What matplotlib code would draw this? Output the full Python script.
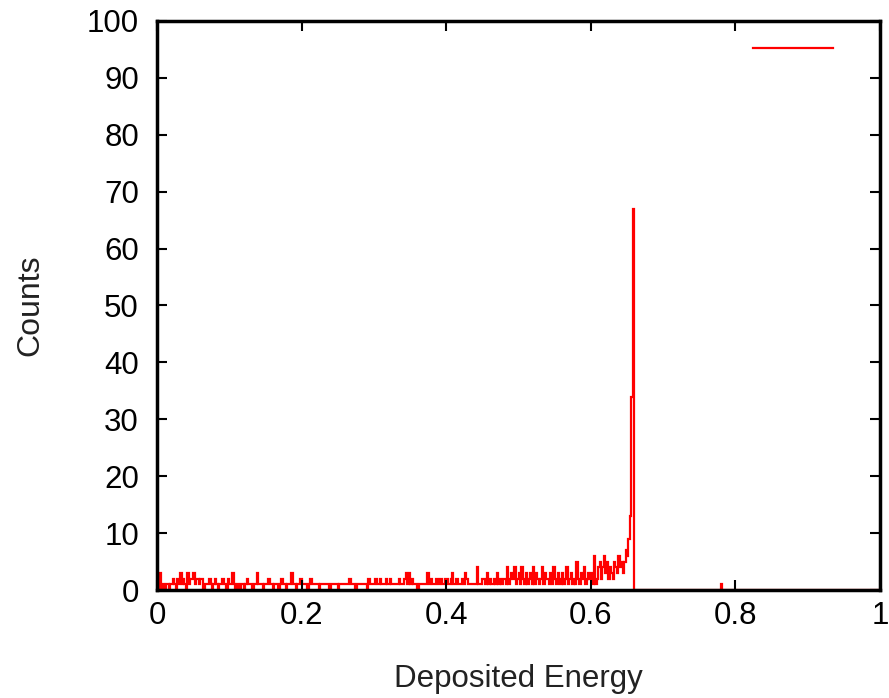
import numpy as np
import matplotlib
matplotlib.use("Agg")
import matplotlib.pyplot as plt

# Histograma de energia depositada (bins de 0.002)
largura_bin = 0.002
contagens = [
    # 0.00 - 0.10
    0, 0, 3, 0, 1, 0, 1, 1, 0, 1, 1, 2, 1, 0, 2, 1, 3, 1, 2, 1, 0, 3, 1, 2, 2,
    3, 1, 2, 2, 1, 2, 2, 0, 1, 1, 1, 2, 1, 0, 1, 2, 1, 0, 1, 1, 2, 1, 1, 0, 2,
    # 0.10 - 0.20
    1, 1, 3, 1, 0, 1, 1, 0, 1, 1, 0, 1, 2, 1, 1, 1, 0, 1, 1, 3, 1, 1, 1, 0, 1,
    1, 1, 2, 1, 1, 0, 1, 1, 1, 0, 1, 2, 1, 1, 0, 1, 1, 1, 3, 1, 1, 0, 1, 1, 2,
    # 0.20 - 0.30
    1, 1, 1, 1, 0, 1, 2, 1, 1, 1, 1, 1, 0, 1, 1, 1, 1, 1, 1, 0, 1, 1, 1, 1, 1,
    0, 1, 1, 1, 1, 1, 1, 1, 2, 1, 1, 1, 0, 1, 1, 1, 1, 1, 1, 1, 0, 2, 1, 1, 1,
    # 0.30 - 0.40
    1, 2, 1, 1, 2, 1, 1, 1, 2, 1, 1, 2, 1, 1, 1, 1, 1, 2, 1, 1, 1, 2, 3, 1, 3,
    1, 2, 1, 1, 1, 0, 1, 1, 1, 1, 1, 1, 3, 1, 2, 1, 1, 1, 2, 1, 1, 2, 1, 1, 2,
    # 0.40 - 0.50
    2, 1, 1, 2, 3, 1, 1, 2, 1, 1, 1, 2, 1, 3, 2, 1, 1, 1, 1, 1, 1, 4, 1, 1, 1,
    2, 2, 1, 3, 1, 2, 1, 1, 2, 1, 3, 1, 2, 1, 2, 2, 1, 4, 1, 2, 3, 2, 4, 1, 2,
    # 0.50 - 0.60
    3, 1, 4, 2, 1, 3, 1, 2, 3, 1, 4, 1, 3, 2, 1, 2, 4, 1, 3, 2, 2, 1, 3, 1, 4,
    2, 1, 3, 2, 1, 3, 1, 2, 4, 1, 2, 3, 1, 2, 1, 5, 2, 1, 3, 2, 4, 1, 2, 3, 2,
    # 0.60 - 0.66
    3, 1, 6, 1, 2, 4, 5, 2, 4, 6, 3, 5, 2, 4, 3, 2, 5, 4, 3, 6, 4, 5, 3, 5, 7,
    6, 9, 13, 34, 67,
]
# evento isolado perto de 0.78
contagens = contagens + [0] * 60 + [1] + [0] * 109

bordas = np.arange(len(contagens) + 1) * largura_bin

plt.rcParams["font.family"] = ["Liberation Sans", "DejaVu Sans"]

fig = plt.figure(figsize=(8.89, 6.98), dpi=100)
ax = fig.add_axes([0.1766, 0.1547, 0.8134, 0.8153])

ax.stairs(contagens, bordas, color="red", linewidth=1.6, label=" ")

ax.set_xlim(0, 1)
ax.set_ylim(0, 100)
ax.set_xticks([0, 0.2, 0.4, 0.6, 0.8, 1])
ax.set_xticklabels(["0", "0.2", "0.4", "0.6", "0.8", "1"])
ax.set_yticks(range(0, 101, 10))

ax.tick_params(axis="both", direction="in", length=7, width=1.5,
               top=True, right=True, labelsize=22.5, colors="black")
ax.tick_params(axis="y", pad=13)
ax.tick_params(axis="x", pad=8)
for s in ax.spines.values():
    s.set_linewidth(2.5)

ax.set_xlabel("Deposited Energy", fontsize=22.5, labelpad=24, color="#222222")
ax.set_ylabel("Counts", fontsize=23, labelpad=30, color="#222222")

ax.legend(loc="upper right", frameon=False, handlelength=2.9,
          handletextpad=0.8, fontsize=20, borderaxespad=0.2)

fig.savefig("out.png", dpi=100)
plt.close(fig)
